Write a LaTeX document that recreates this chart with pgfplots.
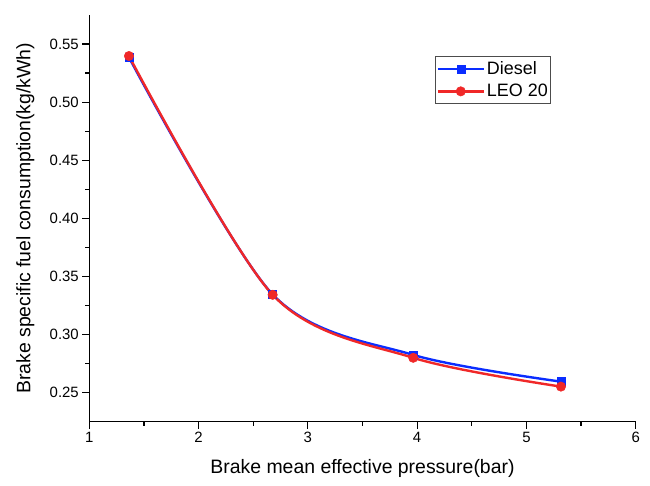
\documentclass[border=0pt]{standalone}
\usepackage{fontspec}
\setmainfont{Liberation Sans}
\usepackage{pgfplots}
\pgfplotsset{compat=1.18}
\definecolor{cblue}{RGB}{10,45,255}
\definecolor{cred}{RGB}{240,40,40}
\begin{document}
\begin{tikzpicture}
\useasboundingbox[fill=white] (-89.3bp,-64.3bp) rectangle (560.7bp,421.7bp);
\begin{axis}[
  scale only axis, width=546.4bp, height=406.7bp,
  xmin=1, xmax=6, ymin=0.225, ymax=0.575,
  axis lines*=left,
  hide obscured x ticks=false, hide obscured y ticks=false,
  axis line style={line width=1.2bp, black},
  xtick={1,2,3,4,5,6},
  ytick={0.25,0.3,0.35,0.4,0.45,0.5,0.55},
  minor x tick num=1, minor y tick num=1,
  tick align=outside,
  major tick length=7bp, minor tick length=4bp,
  tick style={black, line width=1.2bp},
  /pgf/number format/assume math mode=true,
  yticklabel style={/pgf/number format/fixed, /pgf/number format/fixed zerofill, /pgf/number format/precision=2},
  ticklabel style={font=\fontsize{15}{18}\selectfont},
  xlabel={Brake mean effective pressure(bar)},
  ylabel={Brake specific fuel consumption(kg/kWh)},
  label style={font=\fontsize{19.5}{23}\selectfont},
  xlabel style={at={([yshift=-47bp]axis description cs:0.5,0)}, anchor=center},
  ylabel style={at={([xshift=-64bp]axis description cs:0,0.5)}, anchor=center},
  legend style={at={(0.633,0.898)}, anchor=north west, draw=black!70, line width=0.8bp,
    font=\fontsize{18}{21}\selectfont, inner xsep=1bp, inner ysep=3bp, row sep=4bp},
  legend cell align=left,
  legend image code/.code={\draw[mark repeat=2,mark phase=2,#1, line width=2.4bp] plot coordinates {(0bp,0bp) (23bp,0bp) (46bp,0bp)};},
]
\addplot+[smooth, cblue, line width=2.4bp, mark=square*, mark size=4bp, mark options={solid, fill=cblue, draw=cblue, line width=0.5bp}]
  coordinates {(1.363,0.5385) (2.678,0.3345) (3.964,0.2825) (5.316,0.2595)};
\addlegendentry{Diesel}
\addplot+[smooth, cred, line width=2.4bp, mark=*, mark size=4.7bp, mark options={solid, fill=cred, draw=cred, line width=0.5bp}]
  coordinates {(1.363,0.5397) (2.678,0.3342) (3.964,0.2800) (5.316,0.2552)};
\addlegendentry{LEO 20}
\end{axis}
\end{tikzpicture}
\end{document}
